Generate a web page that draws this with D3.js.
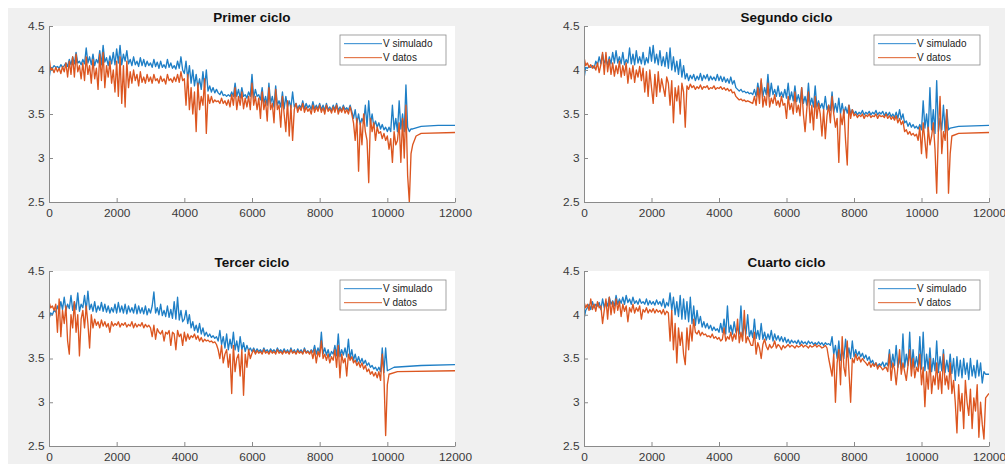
<!DOCTYPE html>
<html><head><meta charset="utf-8">
<script src="https://cdn.jsdelivr.net/npm/d3@7/dist/d3.min.js"></script>
<style>
html,body{margin:0;padding:0;background:#fff;}
svg{display:block;}
</style></head>
<body>
<script>
// ---- data (sampled every 50 units of x) ----
const STEP = 50;
const titles = ["Primer ciclo", "Segundo ciclo", "Tercer ciclo", "Cuarto ciclo"];
const seriesNames = ["V simulado", "V datos"];
const xTicks = [0, 2000, 4000, 6000, 8000, 10000, 12000];
const yTicks = [2.5, 3, 3.5, 4, 4.5];

const p1Sim = [3.90,4.03,4.02,4.05,4.03,4.04,4.02,4.06,4.03,4.05,4.08,4.04,4.12,4.06,4.15,4.07,4.20,4.08,4.10,4.06,
4.12,4.07,4.25,4.08,4.15,4.06,4.18,4.05,4.12,4.08,4.22,4.06,4.28,4.09,4.14,4.05,4.16,4.07,4.20,4.06,
4.24,4.08,4.28,4.06,4.18,4.10,4.22,4.07,4.12,4.05,4.15,4.06,4.10,4.04,4.14,4.05,4.12,4.04,4.10,4.05,
4.08,4.03,4.12,4.04,4.09,4.02,4.10,4.03,4.06,4.02,4.12,4.03,4.08,4.02,4.05,4.01,4.10,4.02,4.15,4.00,
3.96,4.10,3.90,4.05,3.85,4.00,3.82,3.95,3.80,3.90,3.78,3.98,3.80,4.00,3.76,3.82,3.75,3.80,3.74,3.78,
3.74,3.72,3.76,3.71,3.72,3.70,3.72,3.70,3.75,3.70,3.85,3.70,3.78,3.68,3.80,3.70,3.72,3.68,3.75,3.70,
3.95,3.68,3.78,3.70,3.72,3.66,3.80,3.62,3.70,3.60,3.85,3.62,3.70,3.58,3.82,3.60,3.65,3.58,3.75,3.56,
3.70,3.58,3.65,3.57,3.75,3.58,3.62,3.56,3.60,3.57,3.65,3.56,3.62,3.57,3.60,3.55,3.64,3.56,3.60,3.56,
3.62,3.55,3.60,3.54,3.62,3.55,3.58,3.54,3.60,3.55,3.62,3.54,3.58,3.54,3.60,3.55,3.57,3.54,3.60,3.53,
3.45,3.55,3.40,3.50,3.38,3.45,3.40,3.60,3.36,3.65,3.38,3.50,3.36,3.42,3.35,3.40,3.33,3.38,3.32,3.35,
3.30,3.35,3.30,3.60,3.32,3.45,3.30,3.65,3.33,3.50,3.30,3.83,3.35,3.30,3.33];
const p1SimTail = [[10750,3.33],[11000,3.36],[11500,3.37],[12000,3.37]];

const p1Dat = [4.15,4.00,4.02,3.97,4.03,3.98,4.02,3.96,4.04,3.98,4.08,3.92,4.10,3.95,4.15,3.92,4.18,3.98,4.05,3.90,
4.08,3.88,4.15,3.95,4.05,3.85,4.12,3.90,4.02,3.78,4.18,3.88,4.20,3.80,4.05,3.92,4.10,3.85,4.00,3.75,
4.10,3.70,4.15,3.62,4.05,3.58,4.10,3.80,3.98,3.85,4.00,3.88,3.95,3.82,3.98,3.86,3.92,3.85,3.95,3.87,
3.92,3.85,3.95,3.88,3.90,3.85,3.93,3.87,3.90,3.84,3.95,3.88,3.90,3.86,3.92,3.87,3.95,3.86,3.98,3.88,
3.90,3.60,3.95,3.55,3.80,3.50,3.75,3.30,3.85,3.55,3.70,3.60,3.90,3.28,3.72,3.62,3.70,3.63,3.66,3.64,
3.65,3.62,3.68,3.62,3.65,3.60,3.66,3.58,3.72,3.60,3.80,3.55,3.70,3.60,3.75,3.56,3.68,3.58,3.70,3.55,
3.85,3.60,3.70,3.55,3.68,3.45,3.75,3.55,3.65,3.42,3.80,3.55,3.62,3.40,3.78,3.55,3.60,3.35,3.70,3.50,
3.30,3.65,3.25,3.60,3.20,3.55,3.62,3.52,3.58,3.54,3.62,3.52,3.58,3.53,3.56,3.50,3.60,3.52,3.58,3.53,
3.60,3.52,3.57,3.50,3.60,3.53,3.56,3.51,3.58,3.52,3.60,3.50,3.56,3.52,3.58,3.51,3.55,3.50,3.58,3.50,
3.40,3.20,3.45,2.85,3.40,3.15,3.50,3.30,3.20,2.72,3.45,3.30,3.40,3.20,3.35,3.28,3.30,3.22,3.28,3.20,
3.25,3.10,3.22,2.95,3.30,3.15,3.20,3.40,2.95,3.45,3.00,3.60,2.80,2.50,3.05];
const p1DatTail = [[10750,3.15],[10850,3.25],[11000,3.28],[12000,3.29]];

const p2Sim = [3.90,4.03,4.02,4.04,4.03,4.05,4.02,4.10,4.06,4.15,4.07,4.18,4.08,4.12,4.06,4.15,4.07,4.20,4.08,4.22,
4.08,4.15,4.07,4.20,4.06,4.12,4.08,4.25,4.07,4.18,4.06,4.22,4.08,4.15,4.07,4.20,4.06,4.14,4.08,4.26,
4.10,4.28,4.08,4.18,4.06,4.22,4.05,4.15,4.04,4.20,4.02,4.25,4.00,4.15,3.98,4.10,3.95,4.12,3.92,4.05,
3.90,3.96,3.88,3.94,3.90,3.95,3.88,3.93,3.89,3.96,3.88,3.94,3.90,3.95,3.88,3.93,3.89,3.92,3.88,3.95,
3.88,3.93,3.87,3.92,3.86,3.90,3.85,3.92,3.84,3.88,3.80,3.78,3.76,3.78,3.75,3.76,3.74,3.75,3.73,3.74,
3.72,3.78,3.70,3.85,3.72,3.88,3.70,3.80,3.72,3.95,3.70,3.85,3.72,3.78,3.70,3.82,3.70,3.75,3.69,3.78,
3.68,3.85,3.66,3.75,3.65,3.82,3.64,3.72,3.63,3.80,3.62,3.70,3.60,3.85,3.60,3.68,3.58,3.82,3.58,3.65,
3.57,3.62,3.55,3.70,3.55,3.60,3.54,3.75,3.52,3.62,3.52,3.68,3.50,3.62,3.50,3.58,3.51,3.60,3.50,3.55,
3.50,3.53,3.49,3.52,3.50,3.54,3.49,3.52,3.50,3.53,3.49,3.52,3.50,3.54,3.49,3.52,3.50,3.53,3.48,3.52,
3.48,3.52,3.47,3.50,3.46,3.52,3.45,3.55,3.44,3.50,3.40,3.42,3.36,3.40,3.35,3.38,3.34,3.36,3.33,3.38,
3.32,3.65,3.34,3.50,3.30,3.80,3.32,3.55,3.28,3.88,3.30,3.45,3.32,3.60,3.30,3.55,3.32];
const p2SimTail = [[10850,3.34],[11100,3.36],[12000,3.37]];

const p2Dat = [4.15,4.05,4.08,4.03,4.06,4.02,4.05,4.00,4.08,3.97,4.06,4.20,3.95,4.20,3.98,4.12,3.95,4.08,3.93,4.05,
3.96,4.10,3.92,4.05,3.94,4.08,3.85,4.02,3.90,4.05,3.86,4.00,3.92,4.04,3.88,4.02,3.75,3.98,3.70,4.00,
3.80,3.62,3.95,3.70,3.98,3.75,3.90,3.80,3.70,3.92,3.85,3.60,3.88,3.40,3.80,3.65,3.82,3.50,3.85,3.75,
3.35,3.82,3.78,3.84,3.80,3.82,3.78,3.81,3.79,3.83,3.78,3.81,3.80,3.82,3.78,3.80,3.79,3.82,3.78,3.80,
3.79,3.81,3.78,3.80,3.77,3.79,3.76,3.78,3.74,3.75,3.70,3.68,3.66,3.67,3.65,3.66,3.64,3.65,3.64,3.63,
3.62,3.70,3.60,3.80,3.62,3.90,3.58,3.70,3.60,3.85,3.58,3.68,3.62,3.72,3.60,3.65,3.58,3.70,3.60,3.62,
3.45,3.70,3.55,3.62,3.50,3.75,3.52,3.60,3.48,3.80,3.50,3.30,3.55,3.75,3.40,3.60,3.32,3.70,3.45,3.62,
3.50,3.25,3.55,3.22,3.48,3.60,3.40,3.70,3.50,3.35,3.45,2.95,3.50,3.38,3.55,3.20,2.92,3.60,3.45,3.55,
3.48,3.50,3.46,3.49,3.47,3.50,3.45,3.49,3.47,3.50,3.46,3.48,3.47,3.50,3.45,3.49,3.47,3.48,3.46,3.50,
3.45,3.48,3.44,3.47,3.43,3.48,3.40,3.45,3.38,3.42,3.30,3.32,3.27,3.30,3.26,3.28,3.25,3.27,3.20,3.35,
3.05,3.40,3.20,3.00,3.35,3.15,3.25,3.40,3.10,2.60,3.30,3.70,3.05,3.30,3.20,3.55,2.60];
const p2DatTail = [[10850,3.05],[10900,3.25],[11100,3.28],[12000,3.29]];

const p3Sim = [3.95,4.02,4.00,4.05,4.03,4.10,4.04,4.15,4.06,4.20,4.05,4.12,4.07,4.22,4.05,4.15,4.06,4.25,4.04,4.12,
4.08,4.22,4.05,4.27,4.06,4.12,4.04,4.15,4.03,4.10,4.05,4.14,4.04,4.12,4.03,4.10,4.02,4.08,4.03,4.12,
4.02,4.14,4.03,4.10,4.02,4.12,4.01,4.10,4.03,4.08,4.02,4.12,4.01,4.10,4.02,4.08,4.01,4.10,4.00,4.07,
4.02,4.10,4.26,4.02,4.08,4.00,4.12,3.99,4.05,3.98,4.10,3.97,4.06,3.96,4.15,3.95,4.20,3.94,4.05,3.92,
3.95,4.05,3.90,4.00,3.85,3.92,3.82,3.88,3.80,3.90,3.78,3.85,3.76,3.80,3.75,3.78,3.74,3.76,3.73,3.75,
3.70,3.82,3.66,3.75,3.62,3.78,3.60,3.72,3.62,3.80,3.60,3.70,3.58,3.75,3.60,3.68,3.58,3.65,3.59,3.62,
3.58,3.62,3.57,3.61,3.58,3.60,3.57,3.62,3.58,3.60,3.57,3.61,3.58,3.60,3.57,3.62,3.58,3.60,3.57,3.61,
3.57,3.60,3.56,3.62,3.57,3.60,3.56,3.61,3.57,3.60,3.56,3.62,3.57,3.59,3.56,3.60,3.57,3.65,3.55,3.62,
3.56,3.80,3.55,3.62,3.54,3.60,3.52,3.58,3.55,3.65,3.53,3.78,3.52,3.60,3.54,3.62,3.52,3.72,3.50,3.60,
3.48,3.55,3.46,3.52,3.45,3.50,3.44,3.48,3.42,3.45,3.40,3.42,3.38,3.40,3.36,3.40,3.35,3.62,3.34,3.62];
const p3SimTail = [[10000,3.36],[10200,3.40],[11000,3.42],[12000,3.43]];

const p3Dat = [4.15,4.08,4.10,4.05,4.12,3.80,4.18,3.75,4.05,3.90,4.10,3.70,3.55,4.00,3.85,4.15,3.80,4.00,3.53,3.95,
4.05,3.85,4.10,3.90,3.62,4.00,3.85,3.95,3.88,3.92,3.85,3.94,3.87,3.92,3.86,3.90,3.80,3.92,3.87,3.90,
3.88,3.92,3.86,3.90,3.88,3.91,3.86,3.89,3.87,3.92,3.85,3.90,3.86,3.89,3.87,3.91,3.85,3.89,3.86,3.88,
3.85,3.75,3.88,3.72,3.84,3.80,3.78,3.82,3.70,3.80,3.78,3.82,3.65,3.80,3.78,3.60,3.82,3.75,3.78,3.65,
3.80,3.70,3.78,3.72,3.76,3.74,3.78,3.72,3.76,3.70,3.74,3.69,3.72,3.70,3.71,3.69,3.70,3.68,3.69,3.66,
3.60,3.50,3.65,3.45,3.55,3.60,3.40,3.55,3.10,3.65,3.35,3.50,3.55,3.30,3.60,3.08,3.55,3.40,3.60,3.50,
3.56,3.60,3.55,3.59,3.56,3.58,3.55,3.60,3.56,3.58,3.55,3.59,3.56,3.58,3.55,3.60,3.56,3.58,3.55,3.59,
3.56,3.58,3.55,3.60,3.56,3.58,3.55,3.59,3.56,3.58,3.55,3.60,3.56,3.58,3.55,3.59,3.50,3.60,3.45,3.58,
3.52,3.70,3.50,3.55,3.48,3.55,3.45,3.52,3.48,3.60,3.40,3.65,3.28,3.55,3.45,3.50,3.30,3.55,3.48,3.52,
3.45,3.48,3.42,3.46,3.40,3.45,3.38,3.42,3.35,3.38,3.32,3.35,3.30,3.34,3.28,3.35,3.25,3.55,3.30,2.62];
const p3DatTail = [[10000,3.20],[10050,3.32],[10300,3.35],[12000,3.36]];

const p4Sim = [3.95,4.05,4.08,4.12,4.06,4.15,4.08,4.12,4.10,4.14,4.06,4.18,4.08,4.15,4.10,4.20,4.12,4.16,4.10,4.22,
4.12,4.18,4.13,4.20,4.12,4.22,4.14,4.18,4.12,4.20,4.13,4.16,4.12,4.18,4.13,4.15,4.12,4.18,4.11,4.16,
4.12,4.15,4.11,4.17,4.12,4.15,4.10,4.18,4.08,4.14,4.10,4.25,4.05,4.20,4.00,4.15,3.98,4.22,3.95,4.18,
3.95,4.15,3.92,4.20,3.90,4.10,3.88,4.05,3.90,3.98,3.86,3.92,3.85,3.90,3.84,3.88,3.82,3.86,3.82,3.84,
3.80,3.90,3.80,3.95,3.78,4.10,3.80,3.88,3.78,3.92,3.80,3.85,3.78,4.10,3.76,3.90,3.78,4.00,3.75,3.82,
3.74,3.95,3.73,3.82,3.72,3.90,3.72,3.80,3.71,3.78,3.72,3.82,3.70,3.78,3.71,3.76,3.70,3.75,3.69,3.74,
3.68,3.72,3.67,3.71,3.68,3.70,3.67,3.71,3.66,3.70,3.67,3.69,3.66,3.70,3.67,3.69,3.66,3.68,3.66,3.69,
3.66,3.68,3.65,3.68,3.66,3.67,3.65,3.75,3.55,3.65,3.50,3.70,3.48,3.60,3.50,3.72,3.52,3.62,3.50,3.70,
3.52,3.60,3.53,3.58,3.52,3.56,3.50,3.54,3.48,3.52,3.45,3.48,3.42,3.45,3.41,3.44,3.42,3.46,3.40,3.45,
3.42,3.60,3.40,3.55,3.42,3.65,3.40,3.50,3.38,3.78,3.40,3.55,3.42,3.80,3.38,3.60,3.40,3.52,3.40,3.75,
3.38,3.80,3.36,3.55,3.38,3.62,3.35,3.50,3.36,3.70,3.34,3.52,3.36,3.60,3.34,3.48,3.35,3.55,3.33,3.50,
3.25,3.52,3.30,3.48,3.28,3.50,3.32,3.45,3.26,3.50,3.30,3.42,3.28,3.48,3.30,3.45,3.22,3.35];
const p4SimTail = [[11900,3.32],[12000,3.32]];

const p4Dat = [4.15,4.08,4.12,4.05,4.18,4.06,4.12,4.04,4.15,4.08,4.10,3.90,4.05,4.18,3.95,4.20,4.00,4.15,4.02,4.18,
4.05,4.15,3.98,4.12,4.04,4.10,3.92,4.08,4.03,4.12,4.02,4.08,4.04,4.10,3.95,4.06,4.03,4.08,4.02,4.06,
4.03,4.07,4.02,4.06,4.03,4.05,4.01,4.06,4.00,4.04,4.02,3.70,4.05,3.60,3.90,3.45,3.85,3.65,3.80,3.55,
3.43,3.85,3.60,3.88,3.70,3.95,3.80,3.78,3.82,3.76,3.80,3.77,3.78,3.75,3.76,3.74,3.78,3.73,3.75,3.72,
3.74,3.70,3.72,3.85,3.70,3.75,3.72,3.80,3.70,3.78,3.72,3.95,3.68,3.80,3.70,4.05,3.68,3.75,3.70,3.65,
3.65,3.80,3.55,3.68,3.62,3.50,3.66,3.72,3.64,3.60,3.66,3.62,3.64,3.70,3.62,3.66,3.64,3.60,3.65,3.62,
3.64,3.66,3.63,3.65,3.64,3.62,3.65,3.63,3.64,3.66,3.63,3.65,3.64,3.62,3.65,3.63,3.64,3.66,3.63,3.65,
3.64,3.62,3.63,3.65,3.62,3.50,3.40,3.30,3.55,3.00,3.45,3.60,3.20,3.75,3.40,3.30,3.70,3.35,3.00,3.50,
3.45,3.55,3.48,3.52,3.46,3.50,3.47,3.45,3.42,3.46,3.40,3.44,3.41,3.45,3.38,3.42,3.40,3.37,3.39,3.40,
3.35,3.55,3.25,3.45,3.38,3.20,3.40,3.60,3.32,3.45,3.35,3.25,3.42,3.60,3.30,3.50,3.28,3.40,3.35,3.55,
3.20,3.40,2.95,3.35,3.15,3.50,3.10,3.30,3.20,3.45,3.15,3.35,3.10,3.55,3.20,3.30,3.15,3.45,3.10,3.25,
3.00,2.65,3.20,2.90,3.10,2.70,3.25,3.00,2.85,3.15,2.70,3.05,2.90,3.20,2.60,3.00,2.75,2.58];
const p4DatTail = [[11900,3.05],[12000,3.10]];

const panels = [
  {sim: p1Sim, simTail: p1SimTail, dat: p1Dat, datTail: p1DatTail},
  {sim: p2Sim, simTail: p2SimTail, dat: p2Dat, datTail: p2DatTail},
  {sim: p3Sim, simTail: p3SimTail, dat: p3Dat, datTail: p3DatTail},
  {sim: p4Sim, simTail: p4SimTail, dat: p4Dat, datTail: p4DatTail}
];

// ---- layout ----
const W = 1005, H = 464;
const boxes = [
  {x: 49, y: 26, w: 406, h: 176},
  {x: 584, y: 26, w: 405, h: 176},
  {x: 49, y: 271, w: 406, h: 175},
  {x: 584, y: 271, w: 405, h: 175}
];
const colors = ["#1f7fc6", "#dc5620"];
const legendColors = ["#4d9ad6", "#e47a4e"];
const axisColor = "#8a8a8a";
const textColor = "#3a3a3a";
const FONT = "'Liberation Sans', Arial, Helvetica, sans-serif";

const svg = d3.select("body").append("svg").attr("width", W).attr("height", H);
svg.append("rect").attr("x", 8).attr("y", 8).attr("width", W - 8).attr("height", H - 8).attr("fill", "#f0f0f0");

const toPoints = (vals, tail) => vals.map((v, i) => [i * STEP, v]).concat(tail);

// plot areas and data first
const panelGroups = panels.map((p, k) => {
  const b = boxes[k];
  const x = d3.scaleLinear().domain([0, 12000]).range([0, b.w]);
  const y = d3.scaleLinear().domain([2.5, 4.5]).range([b.h, 0]);
  const g = svg.append("g").attr("transform", `translate(${b.x},${b.y})`);

  g.append("rect").attr("width", b.w).attr("height", b.h).attr("fill", "#fff");

  const clipId = "clip" + k;
  g.append("clipPath").attr("id", clipId).append("rect").attr("width", b.w).attr("height", b.h);

  const line = d3.line().x(d => x(d[0])).y(d => y(d[1]));
  const plot = g.append("g").attr("clip-path", `url(#${clipId})`);
  plot.append("path").datum(toPoints(p.sim, p.simTail))
    .attr("d", line).attr("fill", "none").attr("stroke", colors[0])
    .attr("stroke-width", 1.35).attr("stroke-linejoin", "round");
  plot.append("path").datum(toPoints(p.dat, p.datTail))
    .attr("d", line).attr("fill", "none").attr("stroke", colors[1])
    .attr("stroke-width", 1.35).attr("stroke-linejoin", "round");
  return {g, x, y, b};
});

// axes, titles, legends on top
panelGroups.forEach(({g, x, y, b}, k) => {
  const xa = g.append("g").attr("transform", `translate(0,${b.h})`)
    .call(d3.axisBottom(x).tickValues(xTicks).tickFormat(d3.format("d")).tickSize(-4).tickSizeOuter(0).tickPadding(8));
  const ya = g.append("g")
    .call(d3.axisLeft(y).tickValues(yTicks).tickFormat(d => String(d)).tickSize(-4).tickSizeOuter(0).tickPadding(4));
  [xa, ya].forEach(a => {
    a.select(".domain").attr("stroke", axisColor);
    a.selectAll(".tick line").attr("stroke", axisColor);
    a.selectAll(".tick text").attr("fill", textColor).attr("font-family", FONT)
      .attr("font-size", 10.5).attr("transform", "scale(1.13,1)");
  });

  g.append("text").attr("x", b.w / 2).attr("y", -4)
    .attr("text-anchor", "middle").attr("font-family", FONT).attr("font-weight", "bold")
    .attr("font-size", 12.5).attr("fill", "#111")
    .attr("transform", `translate(${b.w / 2},0) scale(1.08,1) translate(${-b.w / 2},0)`)
    .text(titles[k]);

  const lg = g.append("g").attr("transform", `translate(${b.w - 115},9)`);
  lg.append("rect").attr("width", 106).attr("height", 30).attr("fill", "#fff")
    .attr("stroke", "#8c8c8c").attr("stroke-width", 0.8);
  seriesNames.forEach((name, i) => {
    const yy = 8 + i * 14;
    lg.append("rect").attr("x", 4).attr("y", yy).attr("width", 38).attr("height", 1.2)
      .attr("fill", legendColors[i]);
    lg.append("text").attr("x", 43).attr("y", yy + 4)
      .attr("font-family", FONT).attr("font-size", 10).attr("fill", "#222").text(name);
  });
});
</script>
</body></html>
